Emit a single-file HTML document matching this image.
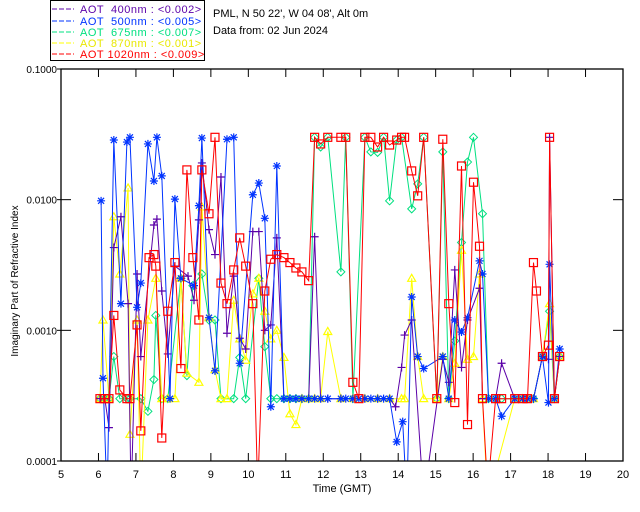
<!DOCTYPE html>
<html><head><meta charset="utf-8"><style>
body{margin:0;background:#fff;}
svg{display:block;font-family:"Liberation Sans",sans-serif;}
</style></head><body>
<svg id="chart" width="640" height="512" viewBox="0 0 640 512" xmlns="http://www.w3.org/2000/svg">
<rect x="0" y="0" width="640" height="512" fill="#fff"/>
<g>
<rect x="50.5" y="0.5" width="154" height="60" fill="none" stroke="#000"/>
<g font-size="11" letter-spacing="0.5">
<g><line x1="52" y1="9" x2="74" y2="9" stroke="#5b00a8" stroke-dasharray="5,2"/><text x="80" y="13" fill="#5b00a8" xml:space="preserve">AOT  400nm : &lt;0.002&gt;</text></g>
<g><line x1="52" y1="21" x2="74" y2="21" stroke="#0033ff" stroke-dasharray="5,2"/><text x="80" y="25" fill="#0033ff" xml:space="preserve">AOT  500nm : &lt;0.005&gt;</text></g>
<g><line x1="52" y1="32" x2="74" y2="32" stroke="#00e080" stroke-dasharray="5,2"/><text x="80" y="36" fill="#00e080" xml:space="preserve">AOT  675nm : &lt;0.007&gt;</text></g>
<g><line x1="52" y1="43" x2="74" y2="43" stroke="#ffff00" stroke-dasharray="5,2"/><text x="80" y="47" fill="#e8e800" xml:space="preserve">AOT  870nm : &lt;0.001&gt;</text></g>
<g><line x1="52" y1="54" x2="74" y2="54" stroke="#ff0000" stroke-dasharray="5,2"/><text x="80" y="58" fill="#ff0000" xml:space="preserve">AOT 1020nm : &lt;0.009&gt;</text></g>
</g></g>
<text x="213" y="17" font-size="11">PML, N 50 22', W 04 08', Alt 0m</text>
<text x="213" y="34" font-size="11">Data from: 02 Jun 2024</text>
<defs><clipPath id="pc"><rect x="61" y="69" width="562" height="392"/></clipPath></defs>
<g id="series" clip-path="url(#pc)"></g>
<g id="axes"></g>
<text x="342" y="492" font-size="11" text-anchor="middle">Time (GMT)</text>
<text transform="translate(18,281) rotate(-90)" font-size="10" text-anchor="middle">Imaginary Part of Refractive Index</text>
</svg>
<script>
const xTicks=[5,6,7,8,9,10,11,12,13,14,15,16,17,18,19,20];
const yTicks=[0.1,0.01,0.001,0.0001];
const yTickLabels=["0.1000","0.0100","0.0010","0.0001"];
const t1020=[6.04,6.17,6.28,6.41,6.57,6.76,6.84,7.03,7.13,7.35,7.48,7.53,7.69,7.85,8.04,8.2,8.36,8.52,8.68,8.76,8.95,9.11,9.27,9.43,9.61,9.77,9.93,10.12,10.25,10.44,10.6,10.76,10.95,11.11,11.27,11.43,11.61,11.77,11.93,12.12,12.47,12.6,12.79,12.95,13.11,13.27,13.45,13.61,13.77,13.96,14.09,14.17,14.36,14.52,14.68,15.03,15.19,15.35,15.51,15.69,15.85,16.01,16.17,16.25,16.39,16.6,16.76,17.11,17.32,17.45,17.61,17.69,17.85,18.01,18.04,18.17,18.31];
const v1020=[.0003,.0003,.0003,.0013,.00035,.0003,.0003,.0011,.00017,.0036,.0038,.0031,.00015,.0014,.0033,.00051,.0169,.0036,.0012,.0169,.0078,.030,.0023,.0016,.0029,.0051,.0031,.0016,.00006,.0020,.0035,.0038,.0036,.0033,.0030,.0028,.0024,.030,.0267,.030,.030,.030,.00040,.0003,.030,.030,.0253,.030,.0262,.0286,.030,.030,.0166,.0107,.030,.0003,.029,.0016,.00028,.0181,.00019,.0136,.0044,.0003,.00006,.0003,.0003,.0003,.0003,.0003,.0033,.0020,.00063,.00077,.030,.0003,.00063];
const t500=[6.07,6.12,6.23,6.41,6.6,6.76,6.84,7.03,7.13,7.32,7.48,7.56,7.69,7.91,8.04,8.2,8.55,8.68,8.76,8.95,9.11,9.43,9.61,9.77,10.12,10.28,10.44,10.6,10.76,10.95,11.11,11.27,11.43,11.61,11.77,11.93,12.12,12.47,12.6,12.79,12.95,13.11,13.27,13.45,13.61,13.77,13.96,14.12,14.23,14.36,14.52,14.68,15.19,15.35,15.51,15.69,15.85,16.17,16.25,16.41,16.6,16.76,17.11,17.32,17.45,17.61,17.85,18.01,18.04,18.17,18.31];
const v500=[.0098,.00043,.00005,.0286,.0016,.0276,.030,.0015,.0023,.0267,.0139,.030,.0152,.0003,.0101,.0025,.0022,.0090,.0296,.00125,.00049,.029,.030,.00056,.0109,.0134,.0072,.00026,.0181,.0003,.0003,.0003,.0003,.0003,.0003,.0003,.0003,.0003,.0003,.0003,.0003,.0003,.0003,.0003,.0003,.0003,.00014,.0002,.00005,.0018,.00063,.00051,.00063,.0003,.0012,.00097,.00125,.0034,.0027,.0003,.0003,.00022,.0003,.0003,.0003,.0003,.00063,.00028,.0032,.0003,.00072];
const t400=[6.04,6.17,6.28,6.41,6.6,6.79,6.87,7.03,7.13,7.48,7.56,7.69,7.85,8.04,8.39,8.55,8.68,8.76,8.95,9.11,9.27,9.43,9.61,9.77,9.93,10.12,10.28,10.44,10.6,10.76,10.95,11.11,11.27,11.43,11.61,11.77,11.93,12.12,12.47,12.79,13.11,13.45,13.77,13.93,14.09,14.17,14.36,14.68,15.19,15.35,15.51,15.69,15.85,16.17,16.25,16.6,16.76,17.11,17.32,17.45,17.61,17.85,18.01,18.04,18.17,18.31];
const v400=[.0003,.0003,.00018,.0043,.0074,.0016,.00005,.0027,.00063,.0064,.0071,.0020,.00066,.0031,.0026,.0017,.0070,.0191,.0059,.0038,.0149,.00095,.0026,.00087,.00072,.0057,.0057,.0010,.0011,.0051,.0003,.0003,.0003,.0003,.0003,.0052,.0003,.0003,.0003,.0003,.0003,.0003,.0003,.00026,.00052,.00092,.0012,.00005,.0006,.0004,.0029,.00052,.0012,.0021,.0003,.0003,.00056,.0003,.0003,.0003,.0003,.00063,.0006,.030,.0003,.00063];
const t675=[6.04,6.17,6.28,6.41,6.57,6.76,6.84,7.13,7.32,7.48,7.53,7.69,7.85,8.2,8.36,8.52,8.76,8.95,9.11,9.27,9.61,9.77,9.93,10.28,10.44,10.6,10.76,10.95,11.11,11.27,11.43,11.61,11.77,11.93,12.12,12.47,12.6,12.79,13.11,13.27,13.45,13.61,13.77,13.96,14.09,14.36,14.52,14.68,15.03,15.19,15.35,15.51,15.69,15.85,16.01,16.25,16.41,16.6,16.76,17.11,17.32,17.45,17.61,17.85,18.04,18.17,18.31];
const v675=[.0003,.0003,.0003,.00063,.0003,.0003,.0003,.0003,.00024,.00042,.0013,.0003,.0003,.0025,.00045,.0022,.0027,.0012,.0012,.0003,.0003,.00062,.0003,.0025,.00075,.0003,.0003,.0003,.0003,.0003,.0003,.0003,.030,.0253,.030,.0028,.030,.0003,.030,.0232,.0230,.030,.0098,.0286,.030,.0085,.0132,.030,.0003,.0232,.0003,.00083,.0047,.0194,.030,.0078,.0003,.0003,.0003,.0003,.0003,.0003,.0003,.00063,.0014,.0003,.00063];
const t870=[6.04,6.12,6.28,6.41,6.57,6.79,6.84,7.03,7.13,7.32,7.53,7.69,7.85,8.04,8.2,8.36,8.68,8.76,8.95,9.11,9.27,9.43,9.61,9.77,9.93,10.12,10.28,10.44,10.6,10.76,10.95,11.11,11.27,11.43,11.61,11.77,11.93,12.12,12.47,12.79,13.11,13.45,13.77,14.09,14.17,14.36,14.52,14.68,15.03,15.19,15.35,15.51,15.69,15.85,16.01,16.17,16.25,16.39,17.11,17.32,17.45,17.61,17.85,18.04,18.17,18.31];
const v870=[.0003,.0012,.0003,.0074,.0027,.0123,.00016,.0012,.00005,.0012,.0025,.0003,.0003,.0003,.0025,.00047,.00040,.0088,.00125,.0005,.0003,.0003,.0017,.00086,.00059,.0019,.0025,.0014,.00086,.0010,.00062,.00023,.00019,.0003,.0003,.0003,.0003,.00098,.0003,.0003,.0003,.0003,.0003,.0003,.0003,.0025,.00063,.0003,.0003,.00063,.0003,.00056,.0041,.0006,.00063,.0027,.0003,.00005,.0003,.0003,.0003,.0003,.00063,.0016,.0003,.00063];

const X0=61,X1=623,Y0=69,Y1=461;
function xs(t){return X0+(t-5)*(X1-X0)/15;}
function ys(v){return Y0+(-1-Math.log10(v))*(Y1-Y0)/3;}
const NS="http://www.w3.org/2000/svg";
function mk(tag,attrs,parent){const e=document.createElementNS(NS,tag);for(const k in attrs)e.setAttribute(k,attrs[k]);parent.appendChild(e);return e;}
const sg=document.getElementById('series');
const ax=document.getElementById('axes');

function sym(kind,x,y,c,g){
  let s;
  if(kind==='square'){s=mk('rect',{x:x-4,y:y-4,width:8,height:8,fill:'none',stroke:c,'stroke-width':1.2},g);}
  else if(kind==='star'){s=mk('path',{d:`M${x-4} ${y}H${x+4}M${x} ${y-4}V${y+4}M${x-3} ${y-3}L${x+3} ${y+3}M${x-3} ${y+3}L${x+3} ${y-3}`,stroke:c,'stroke-width':1.2,fill:'none'},g);}
  else if(kind==='plus'){s=mk('path',{d:`M${x-4} ${y}H${x+4}M${x} ${y-4}V${y+4}`,stroke:c,'stroke-width':1.2,fill:'none'},g);}
  else if(kind==='diamond'){s=mk('path',{d:`M${x} ${y-4}L${x+4} ${y}L${x} ${y+4}L${x-4} ${y}Z`,stroke:c,'stroke-width':1,fill:'none'},g);}
  else {s=mk('path',{d:`M${x} ${y-4}L${x+4} ${y+3}L${x-4} ${y+3}Z`,stroke:c,'stroke-width':1.2,fill:'none'},g);}
  return s;
}
function series(name,ts,vs,c,kind){
  const g=mk('g',{},sg);
  
  
  const pts=ts.map((t,i)=>xs(t).toFixed(1)+','+ys(vs[i]).toFixed(1)).join(' ');
  const pl=mk('polyline',{points:pts,fill:'none',stroke:c,'stroke-width':1},g);
  
  
  ts.forEach((t,i)=>{const s=sym(kind,xs(t),ys(vs[i]),c,g);
    
    });
}
series('series-675nm',t675,v675,'#00e080','diamond');
series('series-870nm',t870,v870,'#ffff00','triangle');
series('series-400nm',t400,v400,'#5b00a8','plus');
series('series-500nm',t500,v500,'#0033ff','star');
series('series-1020nm',t1020,v1020,'#ff0000','square');

const frame=mk('rect',{x:X0,y:Y0,width:X1-X0,height:Y1-Y0,fill:'none',stroke:'#000','stroke-width':1.3},ax);


xTicks.forEach(t=>{
  const x=xs(t);
  mk('line',{x1:x,y1:Y1,x2:x,y2:Y1-8,stroke:'#000'},ax);
  mk('line',{x1:x,y1:Y0,x2:x,y2:Y0+8,stroke:'#000'},ax);
  const l=mk('text',{x:x,y:Y1+17,'font-size':11,'text-anchor':'middle'},ax);
  l.textContent=t;
  
  
});
yTicks.forEach((v,i)=>{
  const y=ys(v);
  mk('line',{x1:X0-4,y1:y,x2:X0,y2:y,stroke:'#000'},ax);
  mk('line',{x1:X0,y1:y,x2:X0+10,y2:y,stroke:'#000'},ax);
  mk('line',{x1:X1,y1:y,x2:X1-10,y2:y,stroke:'#000'},ax);
  const l=mk('text',{x:X0-4,y:y+4,'font-size':10,'text-anchor':'end'},ax);
  l.textContent=yTickLabels[i];
  
  
});
</script>
</body></html>
